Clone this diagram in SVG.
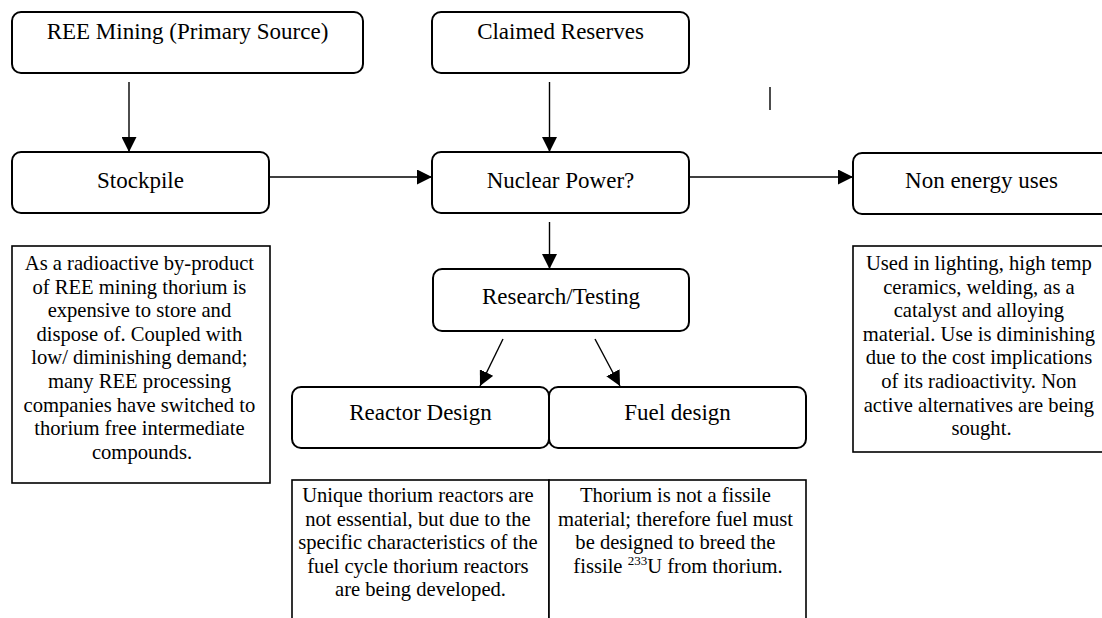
<svg xmlns="http://www.w3.org/2000/svg" width="1102" height="618" viewBox="0 0 1102 618">
<defs>
<style>
.node{fill:#fff;stroke:#000;stroke-width:2}
.note{fill:#fff;stroke:#000;stroke-width:1.6}
text{font-family:'Liberation Serif','Times New Roman',Times,serif;fill:#000;text-anchor:middle}
.h{font-size:23px}
.b{font-size:20.6px}
.c{stroke:#000;stroke-width:1.4;fill:none}
</style>
<marker id="ah" viewBox="0 0 15 15" refX="15" refY="7.5" markerWidth="15" markerHeight="15" markerUnits="userSpaceOnUse" orient="auto">
<path d="M0,0 L15,7.5 L0,15 z" fill="#000"/>
</marker>
</defs>
<rect width="1102" height="618" fill="#fff"/>

<g id="connectors">
<line class="c" x1="129" y1="82" x2="129" y2="152" marker-end="url(#ah)"/>
<line class="c" x1="549.5" y1="82" x2="549.5" y2="152" marker-end="url(#ah)"/>
<line class="c" x1="269" y1="177" x2="432" y2="177" marker-end="url(#ah)"/>
<line class="c" x1="689" y1="177" x2="853" y2="177" marker-end="url(#ah)"/>
<line class="c" x1="549.5" y1="222" x2="549.5" y2="269" marker-end="url(#ah)"/>
<line class="c" x1="503" y1="339" x2="480" y2="386" marker-end="url(#ah)"/>
<line class="c" x1="595" y1="339" x2="620" y2="386" marker-end="url(#ah)"/>
<line class="c" x1="770" y1="87" x2="770" y2="110"/>
</g>

<g id="ree-mining">
<rect class="node" x="12" y="12" width="351" height="61" rx="9"/>
<text class="h" x="187.5" y="39" font-family="Liberation Serif, serif">REE Mining (Primary Source)</text>
</g>
<g id="claimed-reserves">
<rect class="node" x="432" y="12" width="257" height="61" rx="9"/>
<text class="h" x="560.5" y="39" font-family="Liberation Serif, serif">Claimed Reserves</text>
</g>
<g id="stockpile">
<rect class="node" x="12" y="152" width="257" height="61" rx="9"/>
<text class="h" x="140.5" y="188" font-family="Liberation Serif, serif">Stockpile</text>
</g>
<g id="nuclear-power">
<rect class="node" x="432" y="152" width="257" height="61" rx="9"/>
<text class="h" x="560.5" y="188" font-family="Liberation Serif, serif">Nuclear Power?</text>
</g>
<g id="non-energy-uses">
<rect class="node" x="853" y="153" width="257" height="61" rx="9"/>
<text class="h" x="981.5" y="188" font-family="Liberation Serif, serif">Non energy uses</text>
</g>
<g id="research-testing">
<rect class="node" x="433" y="269" width="256" height="62" rx="9"/>
<text class="h" x="561" y="304" font-family="Liberation Serif, serif">Research/Testing</text>
</g>
<g id="reactor-design">
<rect class="node" x="292" y="387" width="257" height="61" rx="9"/>
<text class="h" x="420.5" y="420" font-family="Liberation Serif, serif">Reactor Design</text>
</g>
<g id="fuel-design">
<rect class="node" x="549" y="387" width="257" height="61" rx="9"/>
<text class="h" x="677.5" y="420" font-family="Liberation Serif, serif">Fuel design</text>
</g>

<g id="stockpile-note">
<rect class="note" x="12" y="246" width="258" height="237"/>
<text class="b" x="142" y="270" font-family="Liberation Serif, serif">
<tspan x="142" y="270">As a radioactive by-product</tspan>
<tspan x="142" y="293.6">of REE mining thorium is</tspan>
<tspan x="142" y="317.2">expensive to store and</tspan>
<tspan x="142" y="340.8">dispose of. Coupled with</tspan>
<tspan x="142" y="364.4">low/ diminishing demand;</tspan>
<tspan x="142" y="388">many REE processing</tspan>
<tspan x="142" y="411.6">companies have switched to</tspan>
<tspan x="142" y="435.2">thorium free intermediate</tspan>
<tspan x="142" y="458.8">compounds.</tspan>
</text>
</g>

<g id="non-energy-note">
<rect class="note" x="853" y="246" width="257" height="206"/>
<text class="b" x="981.5" y="270" font-family="Liberation Serif, serif">
<tspan x="981.5" y="270">Used in lighting, high temp</tspan>
<tspan x="981.5" y="293.6">ceramics, welding, as a</tspan>
<tspan x="981.5" y="317.2">catalyst and alloying</tspan>
<tspan x="981.5" y="340.8">material. Use is diminishing</tspan>
<tspan x="981.5" y="364.4">due to the cost implications</tspan>
<tspan x="981.5" y="388">of its radioactivity. Non</tspan>
<tspan x="981.5" y="411.6">active alternatives are being</tspan>
<tspan x="981.5" y="435.2">sought.</tspan>
</text>
</g>

<g id="reactor-note">
<rect class="note" x="292" y="480" width="257" height="160"/>
<text class="b" x="420.5" y="502" font-family="Liberation Serif, serif">
<tspan x="420.5" y="502">Unique thorium reactors are</tspan>
<tspan x="420.5" y="525.6">not essential, but due to the</tspan>
<tspan x="420.5" y="549.2">specific characteristics of the</tspan>
<tspan x="420.5" y="572.8">fuel cycle thorium reactors</tspan>
<tspan x="420.5" y="596.4">are being developed.</tspan>
</text>
</g>

<g id="fuel-note">
<rect class="note" x="549" y="480" width="257" height="160"/>
<text class="b" x="678" y="502" font-family="Liberation Serif, serif">
<tspan x="678" y="502">Thorium is not a fissile</tspan>
<tspan x="678" y="525.6">material; therefore fuel must</tspan>
<tspan x="678" y="549.2">be designed to breed the</tspan>
<tspan x="678" y="572.8">fissile <tspan font-size="13" dy="-8">233</tspan><tspan dy="8">U from thorium.</tspan></tspan>
</text>
</g>
</svg>
